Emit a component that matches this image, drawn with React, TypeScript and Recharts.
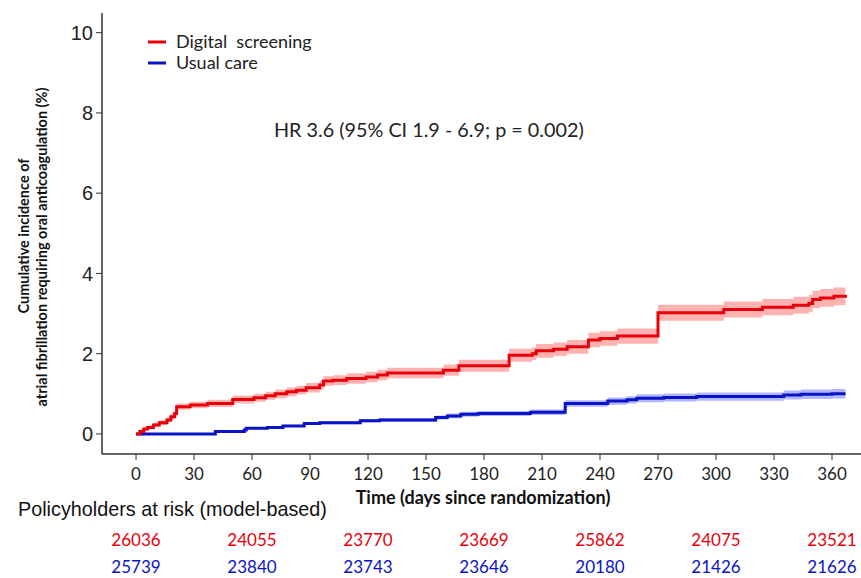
import { ComposedChart, Area, Line, XAxis, YAxis } from 'recharts';

// cumulative incidence (%)
const redDays = [0, 2, 4, 6, 9, 12, 16, 18, 20, 21, 28, 37, 50, 61, 67, 72, 78, 83, 88, 95, 97, 102, 109, 119, 125, 130, 159, 167, 193, 205, 207, 216, 223, 234, 240, 249, 270, 304, 324, 340, 348, 350, 354, 361, 367];
const redPct = [0, 0.06, 0.12, 0.16, 0.22, 0.28, 0.35, 0.43, 0.51, 0.68, 0.72, 0.76, 0.86, 0.9, 0.95, 1.0, 1.05, 1.09, 1.15, 1.22, 1.32, 1.34, 1.38, 1.42, 1.47, 1.52, 1.59, 1.7, 1.96, 2.0, 2.07, 2.11, 2.17, 2.34, 2.38, 2.44, 3.02, 3.1, 3.16, 3.21, 3.25, 3.35, 3.39, 3.43, 3.46];
const redLow = [0, 0.03, 0.08, 0.11, 0.17, 0.22, 0.29, 0.36, 0.44, 0.6, 0.64, 0.67, 0.76, 0.8, 0.85, 0.89, 0.94, 0.98, 1.03, 1.1, 1.2, 1.22, 1.25, 1.29, 1.34, 1.39, 1.45, 1.55, 1.8, 1.84, 1.9, 1.94, 2.0, 2.16, 2.2, 2.25, 2.82, 2.9, 2.96, 3.0, 3.04, 3.13, 3.17, 3.21, 3.24];
const redHigh = [0, 0.09, 0.16, 0.21, 0.27, 0.34, 0.41, 0.5, 0.58, 0.76, 0.8, 0.85, 0.96, 1.0, 1.05, 1.11, 1.16, 1.2, 1.27, 1.34, 1.44, 1.46, 1.51, 1.55, 1.6, 1.65, 1.73, 1.85, 2.12, 2.16, 2.24, 2.28, 2.34, 2.52, 2.56, 2.63, 3.22, 3.3, 3.36, 3.42, 3.46, 3.57, 3.61, 3.65, 3.68];

const blueDays = [0, 41, 56, 57, 68, 76, 87, 95, 116, 126, 155, 161, 168, 177, 204, 222, 244, 254, 259, 273, 290, 335, 344, 360, 367];
const bluePct = [0, 0.06, 0.1, 0.14, 0.16, 0.2, 0.26, 0.28, 0.33, 0.35, 0.41, 0.45, 0.49, 0.51, 0.54, 0.76, 0.82, 0.85, 0.89, 0.91, 0.93, 0.97, 0.99, 1.0, 1.0];
const blueLow = [0, 0.04, 0.08, 0.11, 0.13, 0.17, 0.22, 0.24, 0.29, 0.3, 0.36, 0.39, 0.43, 0.45, 0.47, 0.68, 0.73, 0.76, 0.79, 0.81, 0.83, 0.86, 0.87, 0.88, 0.88];
const blueHigh = [0, 0.08, 0.12, 0.17, 0.19, 0.23, 0.3, 0.32, 0.37, 0.4, 0.46, 0.51, 0.55, 0.57, 0.61, 0.84, 0.91, 0.94, 0.99, 1.01, 1.03, 1.08, 1.11, 1.12, 1.12];

const xTicks = [0, 30, 60, 90, 120, 150, 180, 210, 240, 270, 300, 330, 360];
const yTicks = [0, 2, 4, 6, 8, 10];

const riskDays = [0, 60, 120, 180, 240, 300, 360];
const riskDigital = [26036, 24055, 23770, 23669, 25862, 24075, 23521];
const riskUsual = [25739, 23840, 23743, 23646, 20180, 21426, 21626];

const RED = '#e8000b';
const BLUE = '#0a14c4';
const CAL = 'Lato, "Noto Sans", sans-serif';
const ARIAL = '"Liberation Sans", Arial, sans-serif';

const redData = redDays.map((d, i) => ({ day: d, pct: redPct[i], band: [redLow[i], redHigh[i]] }));
const blueData = blueDays.map((d, i) => ({ day: d, pct: bluePct[i], band: [blueLow[i], blueHigh[i]] }));

function XTick(props: any) {
  const { x, y, payload } = props;
  const k = riskDays.indexOf(payload.value);
  return (
    <g fontFamily={CAL} fontSize={17}>
      <text x={x} y={y + 18} textAnchor="middle" fill="#222">{payload.value}</text>
      {k >= 0 && (
        <>
          <text x={x} y={y + 84} textAnchor="middle" fill={RED}>{riskDigital[k]}</text>
          <text x={x} y={y + 111} textAnchor="middle" fill={BLUE}>{riskUsual[k]}</text>
        </>
      )}
    </g>
  );
}

export default function App() {
  return (
    <div style={{ position: 'absolute', left: 0, top: 0, width: 861, height: 578, background: '#fff' }}>
      <ComposedChart width={861} height={578} margin={{ top: 13, right: 0, bottom: 0, left: 0 }}>
        <XAxis type="number" dataKey="day" domain={[-17.6, 375]} ticks={xTicks} interval={0}
          allowDataOverflow height={124} tickSize={6} tick={<XTick />}
          axisLine={{ stroke: '#333', strokeWidth: 1.5 }} tickLine={{ stroke: '#333' }} />
        <YAxis type="number" domain={[-0.5, 10.49]} ticks={yTicks} allowDataOverflow width={102}
          tickSize={6} tickMargin={3} axisLine={{ stroke: '#333', strokeWidth: 1.5 }} tickLine={{ stroke: '#333' }}
          tick={{ fill: '#222', fontSize: 20, fontFamily: ARIAL }} />
        <Area data={redData} dataKey="band" type="stepAfter" stroke="none" fill="#ff7f7f" fillOpacity={0.6} isAnimationActive={false} />
        <Area data={blueData} dataKey="band" type="stepAfter" stroke="none" fill="#7f86ff" fillOpacity={0.6} isAnimationActive={false} />
        <Line data={blueData} dataKey="pct" type="stepAfter" stroke={BLUE} strokeWidth={3} dot={false} isAnimationActive={false} />
        <Line data={redData} dataKey="pct" type="stepAfter" stroke={RED} strokeWidth={3} dot={false} isAnimationActive={false} />
      </ComposedChart>
      <svg width={861} height={578} style={{ position: 'absolute', left: 0, top: 0, pointerEvents: 'none' }}>
        <g fontFamily={CAL} fontWeight="bold" fontSize={14.5} fill="#111" textAnchor="middle">
          <text transform="translate(29,236) rotate(-90)">Cumulative incidence of</text>
          <text transform="translate(47,247) rotate(-90)">atrial fibrillation requiring oral anticoagulation (%)</text>
        </g>
        <text x={483} y={504} textAnchor="middle" fontFamily={CAL} fontWeight="bold" fontSize={18} fill="#111">Time (days since randomization)</text>
        <text x={18} y={516} fontFamily={ARIAL} fontSize={19.8} fill="#111">Policyholders at risk (model-based)</text>
        <line x1={148} x2={166} y1={42} y2={42} stroke={RED} strokeWidth={3} />
        <line x1={148} x2={166} y1={63} y2={63} stroke={BLUE} strokeWidth={3} />
        <g fontFamily={CAL} fontSize={18} fill="#222">
          <text x={176} y={48} style={{ whiteSpace: 'pre' }}>Digital  screening</text>
          <text x={176} y={69}>Usual care</text>
          <text x={274} y={137} fontSize={19.8}>HR 3.6 (95% CI 1.9 - 6.9; p = 0.002)</text>
        </g>
      </svg>
    </div>
  );
}
